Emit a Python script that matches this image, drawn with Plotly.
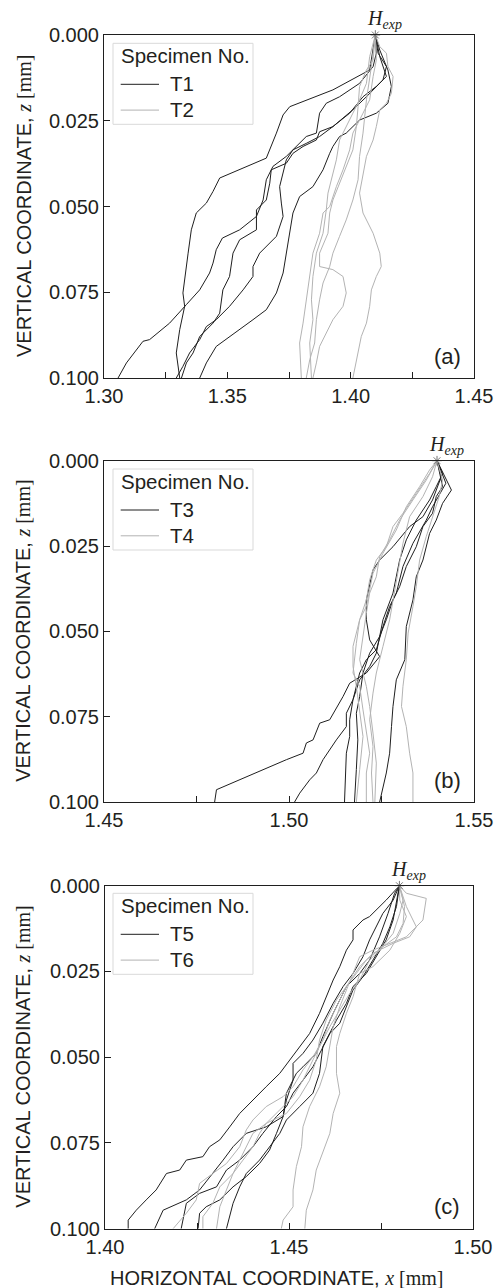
import plotly.graph_objects as go

W, H = 496, 1288

# ---------------- Panel (a) ----------------
T1_x = [
    [1.410, 1.4077, 1.3928, 1.3874, 1.3753, 1.3726, 1.3699, 1.3658, 1.3469, 1.3442, 1.3415, 1.3374, 1.3354, 1.3341, 1.3327, 1.3320, 1.3327, 1.3307, 1.3293, 1.3307],
    [1.410, 1.4111, 1.4145, 1.4131, 1.4064, 1.4009, 1.3928, 1.3874, 1.3861, 1.3807, 1.3766, 1.3739, 1.3678, 1.3672, 1.3658, 1.3618, 1.3618, 1.3550, 1.3523, 1.3509, 1.3482, 1.3469, 1.3442, 1.3415, 1.3388, 1.3361, 1.3334, 1.3314],
    [1.410, 1.4118, 1.4145, 1.4104, 1.4050, 1.3996, 1.3928, 1.3874, 1.3820, 1.3766, 1.3739, 1.3726, 1.3712, 1.3719, 1.3726, 1.3699, 1.3631, 1.3604, 1.3604, 1.3564, 1.3509, 1.3455, 1.3415, 1.3388, 1.3347, 1.3320, 1.3293],
    [1.410, 1.4118, 1.4151, 1.4165, 1.4151, 1.4104, 1.4036, 1.3982, 1.3955, 1.3928, 1.3915, 1.3888, 1.3847, 1.3793, 1.3766, 1.3753, 1.3739, 1.3726, 1.3699, 1.3658, 1.3604, 1.3550, 1.3455, 1.3415, 1.3388],
    [1.410, 1.4104, 1.4091, 1.4036, 1.3955, 1.3901, 1.3874, 1.3861, 1.3820, 1.3766, 1.3739, 1.3685, 1.3658, 1.3645, 1.3618, 1.3550, 1.3480, 1.3455, 1.3442, 1.3428, 1.3388, 1.3334, 1.3266, 1.3185, 1.3158, 1.3091, 1.3057],
]
T1_z = [
    [0, 0.0102, 0.0160, 0.0175, 0.0209, 0.0233, 0.0286, 0.0359, 0.0417, 0.0456, 0.0490, 0.0519, 0.0568, 0.0636, 0.0704, 0.0752, 0.0791, 0.0859, 0.0927, 0.100],
    [0, 0.0053, 0.0092, 0.0131, 0.0180, 0.0218, 0.0267, 0.0282, 0.0306, 0.0325, 0.0345, 0.0374, 0.0393, 0.0432, 0.0481, 0.0510, 0.0568, 0.0597, 0.0636, 0.0704, 0.0743, 0.0811, 0.0840, 0.0859, 0.0879, 0.0927, 0.0956, 0.100],
    [0, 0.0063, 0.0121, 0.0150, 0.0180, 0.0228, 0.0267, 0.0296, 0.0316, 0.0335, 0.0364, 0.0403, 0.0442, 0.0490, 0.0529, 0.0587, 0.0636, 0.0675, 0.0704, 0.0743, 0.0791, 0.0830, 0.0850, 0.0888, 0.0927, 0.0966, 0.100],
    [0, 0.0044, 0.0102, 0.0150, 0.0199, 0.0228, 0.0248, 0.0286, 0.0296, 0.0325, 0.0345, 0.0393, 0.0442, 0.0471, 0.0519, 0.0578, 0.0636, 0.0694, 0.0752, 0.0801, 0.0830, 0.0859, 0.0908, 0.0956, 0.100],
    [0, 0.0053, 0.0092, 0.0141, 0.0180, 0.0199, 0.0228, 0.0286, 0.0296, 0.0335, 0.0354, 0.0383, 0.0422, 0.0481, 0.0529, 0.0568, 0.0592, 0.0626, 0.0665, 0.0694, 0.0743, 0.0786, 0.0840, 0.0888, 0.0893, 0.0956, 0.100],
]
T2_x = [
    [1.410, 1.4118, 1.4145, 1.4151, 1.4172, 1.4165, 1.4145, 1.4118, 1.4104, 1.4091, 1.4064, 1.4050, 1.4036, 1.4050, 1.4091, 1.4118, 1.4124, 1.4104, 1.4084, 1.4077, 1.4064, 1.4043, 1.4030, 1.4009],
    [1.410, 1.4091, 1.4064, 1.4036, 1.4030, 1.4023, 1.4009, 1.3982, 1.3955, 1.3928, 1.3915, 1.3908, 1.3874, 1.3874, 1.3928, 1.3969, 1.3982, 1.3969, 1.3928, 1.3901, 1.3874, 1.3861, 1.3847],
    [1.410, 1.4077, 1.4064, 1.4036, 1.4009, 1.3982, 1.3955, 1.3942, 1.3928, 1.3908, 1.3901, 1.3888, 1.3861, 1.3847, 1.3841, 1.3847, 1.3834, 1.3841],
    [1.410, 1.4104, 1.4091, 1.4077, 1.4050, 1.4009, 1.3996, 1.3969, 1.3942, 1.3915, 1.3888, 1.3874, 1.3847, 1.3834, 1.3820, 1.3807, 1.3793, 1.3800],
    [1.410, 1.4084, 1.4064, 1.4050, 1.4036, 1.4030, 1.4009, 1.3982, 1.3955, 1.3928, 1.3915, 1.3888, 1.3874, 1.3861, 1.3854, 1.3834, 1.3820],
]
T2_z = [
    [0, 0.0034, 0.0053, 0.0092, 0.0121, 0.0170, 0.0199, 0.0218, 0.0267, 0.0306, 0.0354, 0.0413, 0.0461, 0.0519, 0.0578, 0.0636, 0.0675, 0.0704, 0.0743, 0.0791, 0.0840, 0.0879, 0.0927, 0.100],
    [0, 0.0073, 0.0102, 0.0150, 0.0209, 0.0267, 0.0335, 0.0383, 0.0432, 0.0481, 0.0519, 0.0578, 0.0636, 0.0675, 0.0684, 0.0704, 0.0752, 0.0791, 0.0830, 0.0869, 0.0908, 0.0956, 0.100],
    [0, 0.0063, 0.0141, 0.0189, 0.0228, 0.0267, 0.0306, 0.0364, 0.0403, 0.0461, 0.0510, 0.0578, 0.0636, 0.0704, 0.0772, 0.0830, 0.0898, 0.100],
    [0, 0.0073, 0.0121, 0.0189, 0.0228, 0.0286, 0.0335, 0.0393, 0.0442, 0.0500, 0.0519, 0.0578, 0.0636, 0.0704, 0.0772, 0.0840, 0.0898, 0.100],
    [0, 0.0092, 0.0189, 0.0286, 0.0354, 0.0422, 0.0481, 0.0539, 0.0587, 0.0636, 0.0675, 0.0723, 0.0772, 0.0830, 0.0898, 0.0947, 0.100],
]

# ---------------- Panel (b) ----------------
T3_x = [
    [1.540, 1.5415, 1.5388, 1.5362, 1.5326, 1.5281, 1.5245, 1.5227, 1.5209, 1.5209, 1.5218, 1.5245, 1.5209, 1.5164, 1.5146, 1.5110, 1.5083, 1.5065, 1.5047, 1.5038, 1.4993, 1.4804, 1.4799],
    [1.540, 1.5411, 1.5398, 1.5380, 1.5344, 1.5317, 1.5299, 1.5281, 1.5254, 1.5236, 1.5218, 1.5191, 1.5173, 1.5155, 1.5155, 1.5128, 1.5092, 1.5074, 1.5056, 1.5029, 1.5015],
    [1.540, 1.5424, 1.5388, 1.5371, 1.5335, 1.5308, 1.5290, 1.5272, 1.5254, 1.5236, 1.5209, 1.5191, 1.5182, 1.5173, 1.5164, 1.5164, 1.5155, 1.5150],
    [1.540, 1.5439, 1.5415, 1.5398, 1.5380, 1.5362, 1.5344, 1.5335, 1.5317, 1.5313, 1.5290, 1.5281, 1.5277, 1.5272, 1.5263, 1.5245],
    [1.540, 1.5415, 1.5398, 1.5388, 1.5362, 1.5344, 1.5317, 1.5299, 1.5281, 1.5263, 1.5245, 1.5218, 1.5200, 1.5191, 1.5182, 1.5186, 1.5182, 1.5177],
]
T3_z = [
    [0, 0.0037, 0.0115, 0.0164, 0.0193, 0.0252, 0.0291, 0.0320, 0.0408, 0.0466, 0.0525, 0.0574, 0.0622, 0.0652, 0.0691, 0.0759, 0.0769, 0.0818, 0.0827, 0.0857, 0.0876, 0.0964, 0.100],
    [0, 0.0047, 0.0076, 0.0115, 0.0174, 0.0232, 0.0291, 0.0388, 0.0466, 0.0564, 0.0603, 0.0642, 0.0700, 0.0740, 0.0779, 0.0818, 0.0876, 0.0915, 0.0935, 0.0974, 0.100],
    [0, 0.0066, 0.0135, 0.0174, 0.0242, 0.0310, 0.0388, 0.0427, 0.0486, 0.0554, 0.0583, 0.0622, 0.0661, 0.0700, 0.0759, 0.0808, 0.0857, 0.100],
    [0, 0.0086, 0.0125, 0.0174, 0.0213, 0.0291, 0.0340, 0.0408, 0.0486, 0.0583, 0.0642, 0.0720, 0.0779, 0.0857, 0.0915, 0.100],
    [0, 0.0076, 0.0105, 0.0154, 0.0193, 0.0252, 0.0310, 0.0369, 0.0408, 0.0466, 0.0515, 0.0564, 0.0622, 0.0691, 0.0740, 0.0818, 0.0905, 0.100],
]
T4_x = [
    [1.540, 1.5380, 1.5353, 1.5317, 1.5290, 1.5254, 1.5227, 1.5209, 1.5191, 1.5182, 1.5173, 1.5191, 1.5200, 1.5209, 1.5218, 1.5209, 1.5209],
    [1.540, 1.5371, 1.5335, 1.5299, 1.5272, 1.5245, 1.5236, 1.5218, 1.5209, 1.5200, 1.5191, 1.5209, 1.5218, 1.5227, 1.5236, 1.5232],
    [1.540, 1.5388, 1.5362, 1.5326, 1.5308, 1.5299, 1.5290, 1.5281, 1.5272, 1.5254, 1.5236, 1.5227, 1.5218, 1.5227, 1.5223, 1.5227],
    [1.540, 1.5415, 1.5406, 1.5388, 1.5371, 1.5353, 1.5344, 1.5335, 1.5322, 1.5317, 1.5308, 1.5304, 1.5317, 1.5326, 1.5335, 1.5335],
    [1.540, 1.5380, 1.5344, 1.5308, 1.5281, 1.5263, 1.5236, 1.5218, 1.5209, 1.5191, 1.5173, 1.5173, 1.5182, 1.5191, 1.5200, 1.5191, 1.5182],
]
T4_z = [
    [0, 0.0027, 0.0076, 0.0135, 0.0203, 0.0271, 0.0330, 0.0427, 0.0466, 0.0535, 0.0622, 0.0661, 0.0730, 0.0798, 0.0857, 0.0915, 0.100],
    [0, 0.0057, 0.0115, 0.0174, 0.0232, 0.0281, 0.0340, 0.0388, 0.0447, 0.0515, 0.0583, 0.0661, 0.0720, 0.0798, 0.0886, 0.100],
    [0, 0.0047, 0.0105, 0.0164, 0.0242, 0.0300, 0.0349, 0.0408, 0.0466, 0.0544, 0.0622, 0.0681, 0.0759, 0.0837, 0.0915, 0.100],
    [0, 0.0057, 0.0105, 0.0164, 0.0222, 0.0291, 0.0369, 0.0427, 0.0505, 0.0583, 0.0661, 0.0720, 0.0779, 0.0857, 0.0915, 0.100],
    [0, 0.0037, 0.0096, 0.0154, 0.0193, 0.0252, 0.0291, 0.0349, 0.0408, 0.0466, 0.0544, 0.0603, 0.0661, 0.0730, 0.0808, 0.0905, 0.100],
]

# ---------------- Panel (c) ----------------
T5_x = [
    [1.480, 1.4764, 1.4719, 1.4701, 1.4674, 1.4674, 1.4656, 1.4638, 1.4620, 1.4601, 1.4583, 1.4556, 1.4529, 1.4502, 1.4475, 1.4438, 1.4402, 1.4366, 1.4339, 1.4312, 1.4284, 1.4266, 1.4221, 1.4203, 1.4167, 1.4139, 1.4112, 1.4085, 1.4063, 1.4063],
    [1.480, 1.4783, 1.4755, 1.4737, 1.4719, 1.4701, 1.4674, 1.4647, 1.4620, 1.4592, 1.4565, 1.4538, 1.4511, 1.4511, 1.4493, 1.4484, 1.4438, 1.4384, 1.4348, 1.4321, 1.4293, 1.4257, 1.4221, 1.4158, 1.4135],
    [1.480, 1.4792, 1.4774, 1.4755, 1.4728, 1.4701, 1.4674, 1.4656, 1.4638, 1.4611, 1.4583, 1.4565, 1.4538, 1.4511, 1.4493, 1.4466, 1.4429, 1.4402, 1.4366, 1.4330, 1.4303, 1.4257, 1.4221, 1.4207],
    [1.480, 1.4787, 1.4769, 1.4746, 1.4719, 1.4692, 1.4656, 1.4638, 1.4620, 1.4592, 1.4574, 1.4538, 1.4520, 1.4493, 1.4484, 1.4466, 1.4447, 1.4420, 1.4384, 1.4348, 1.4312, 1.4275, 1.4257, 1.4253],
    [1.480, 1.4783, 1.4764, 1.4737, 1.4710, 1.4674, 1.4656, 1.4629, 1.4611, 1.4592, 1.4583, 1.4565, 1.4529, 1.4493, 1.4475, 1.4447, 1.4420, 1.4384, 1.4366, 1.4348, 1.4339, 1.4330],
]
T5_z = [
    [0, 0.0042, 0.0090, 0.0100, 0.0129, 0.0158, 0.0188, 0.0236, 0.0275, 0.0324, 0.0372, 0.0431, 0.0469, 0.0508, 0.0547, 0.0586, 0.0625, 0.0664, 0.0703, 0.0741, 0.0761, 0.0790, 0.0800, 0.0829, 0.0839, 0.0887, 0.0916, 0.0946, 0.0975, 0.100],
    [0, 0.0042, 0.0081, 0.0120, 0.0158, 0.0207, 0.0256, 0.0294, 0.0343, 0.0401, 0.0450, 0.0489, 0.0518, 0.0567, 0.0625, 0.0673, 0.0703, 0.0722, 0.0761, 0.0800, 0.0839, 0.0887, 0.0916, 0.0946, 0.100],
    [0, 0.0061, 0.0120, 0.0168, 0.0217, 0.0265, 0.0304, 0.0353, 0.0401, 0.0431, 0.0489, 0.0528, 0.0567, 0.0605, 0.0644, 0.0673, 0.0722, 0.0761, 0.0800, 0.0829, 0.0878, 0.0897, 0.0926, 0.100],
    [0, 0.0022, 0.0081, 0.0149, 0.0217, 0.0256, 0.0294, 0.0333, 0.0372, 0.0440, 0.0489, 0.0528, 0.0547, 0.0605, 0.0673, 0.0722, 0.0771, 0.0810, 0.0848, 0.0878, 0.0916, 0.0936, 0.0955, 0.100],
    [0, 0.0100, 0.0158, 0.0207, 0.0256, 0.0294, 0.0343, 0.0392, 0.0431, 0.0469, 0.0547, 0.0605, 0.0644, 0.0683, 0.0722, 0.0761, 0.0800, 0.0839, 0.0878, 0.0926, 0.0965, 0.100],
]
T6_x = [
    [1.480, 1.4801, 1.4819, 1.4801, 1.4774, 1.4728, 1.4692, 1.4674, 1.4656, 1.4638, 1.4629, 1.4629, 1.4638, 1.4620, 1.4611, 1.4592, 1.4574, 1.4565, 1.4547, 1.4543],
    [1.480, 1.4819, 1.4873, 1.4864, 1.4819, 1.4728, 1.4692, 1.4674, 1.4656, 1.4638, 1.4620, 1.4611, 1.4601, 1.4583, 1.4556, 1.4538, 1.4534, 1.4520, 1.4511, 1.4511, 1.4484, 1.4479],
    [1.480, 1.4810, 1.4801, 1.4783, 1.4746, 1.4719, 1.4692, 1.4665, 1.4638, 1.4611, 1.4583, 1.4565, 1.4538, 1.4511, 1.4484, 1.4438, 1.4402, 1.4384, 1.4366, 1.4348, 1.4330, 1.4312, 1.4303],
    [1.480, 1.4819, 1.4846, 1.4828, 1.4783, 1.4728, 1.4692, 1.4656, 1.4629, 1.4601, 1.4583, 1.4574, 1.4556, 1.4529, 1.4493, 1.4438, 1.4420, 1.4402, 1.4375, 1.4348, 1.4312, 1.4293, 1.4266, 1.4266],
    [1.480, 1.4814, 1.4810, 1.4792, 1.4755, 1.4710, 1.4683, 1.4656, 1.4629, 1.4611, 1.4592, 1.4565, 1.4538, 1.4511, 1.4484, 1.4438, 1.4402, 1.4384, 1.4366, 1.4330, 1.4293, 1.4257, 1.4248, 1.4221, 1.4185],
]
T6_z = [
    [0, 0.0042, 0.0090, 0.0139, 0.0188, 0.0236, 0.0256, 0.0324, 0.0372, 0.0431, 0.0469, 0.0547, 0.0605, 0.0664, 0.0722, 0.0780, 0.0829, 0.0887, 0.0946, 0.100],
    [0, 0.0022, 0.0037, 0.0100, 0.0149, 0.0188, 0.0207, 0.0256, 0.0304, 0.0353, 0.0411, 0.0469, 0.0528, 0.0586, 0.0644, 0.0703, 0.0761, 0.0819, 0.0887, 0.0936, 0.0975, 0.100],
    [0, 0.0042, 0.0081, 0.0139, 0.0188, 0.0217, 0.0275, 0.0314, 0.0362, 0.0411, 0.0469, 0.0508, 0.0567, 0.0615, 0.0644, 0.0693, 0.0722, 0.0761, 0.0800, 0.0839, 0.0887, 0.0936, 0.100],
    [0, 0.0061, 0.0120, 0.0149, 0.0168, 0.0197, 0.0236, 0.0294, 0.0333, 0.0392, 0.0450, 0.0508, 0.0567, 0.0615, 0.0664, 0.0693, 0.0722, 0.0761, 0.0800, 0.0839, 0.0878, 0.0926, 0.0965, 0.100],
    [0, 0.0061, 0.0110, 0.0149, 0.0178, 0.0217, 0.0256, 0.0294, 0.0353, 0.0392, 0.0450, 0.0499, 0.0537, 0.0586, 0.0615, 0.0644, 0.0683, 0.0712, 0.0761, 0.0810, 0.0839, 0.0868, 0.0916, 0.0955, 0.100],
]

HEXP_X = [1.410, 1.540, 1.480]
HEXP_Z = [0.0, 0.0, 0.0]
X_RANGES = [[1.30, 1.45], [1.45, 1.55], [1.40, 1.50]]
Z_RANGE = [0.100, 0.000]
PANEL_LABELS = ["(a)", "(b)", "(c)"]
SPECIMENS = [["T1", "T2"], ["T3", "T4"], ["T5", "T6"]]
LEGEND_TITLE = "Specimen No."

BLACK = "#1f1f1f"
GRAY = "#b3b3b3"
TXT = "#231f20"
FONT = "Liberation Sans, Arial, Helvetica, sans-serif"
SERIF = "Liberation Serif, Times New Roman, serif"

# plot-area boxes in pixels (left, top, right, bottom)
BOXES = [(104, 35, 474, 378), (104, 460.7, 474, 802), (105, 885.7, 473, 1228.7)]
LEGEND_TOP = [43.3, 469, 893.3]

def pxx(p):
    return p / W

def pxy(p):
    return 1 - p / H

fig = go.Figure()
data = [(T1_x, T1_z, T2_x, T2_z), (T3_x, T3_z, T4_x, T4_z), (T5_x, T5_z, T6_x, T6_z)]

for i, (bx, bz, gx, gz) in enumerate(data):
    n = "" if i == 0 else str(i + 1)
    xa, ya = "x" + n, "y" + n
    for xs, zs in zip(bx, bz):
        fig.add_trace(go.Scatter(x=xs, y=zs, mode="lines", line=dict(color=BLACK, width=1),
                                 name=SPECIMENS[i][0], showlegend=False, xaxis=xa, yaxis=ya))
    for xs, zs in zip(gx, gz):
        fig.add_trace(go.Scatter(x=xs, y=zs, mode="lines", line=dict(color=GRAY, width=1),
                                 name=SPECIMENS[i][1], showlegend=False, xaxis=xa, yaxis=ya))
    fig.add_trace(go.Scatter(x=[HEXP_X[i]], y=[HEXP_Z[i]], mode="markers",
                             marker=dict(symbol="asterisk-open", size=8, color="#777777",
                                         line=dict(color="#777777", width=1)),
                             showlegend=False, xaxis=xa, yaxis=ya, cliponaxis=False))

    l, t, r, b = BOXES[i]
    fig.layout["xaxis" + n] = dict(
        domain=[pxx(l), pxx(r)], range=X_RANGES[i], anchor=ya, automargin=False,
        dtick=0.05, tick0=X_RANGES[i][0], tickformat=".2f",
        ticks="inside", ticklen=6, tickwidth=1, tickcolor=BLACK,
        minor=dict(dtick=0.025, tick0=X_RANGES[i][0], ticks="inside", ticklen=6, tickwidth=1, tickcolor=BLACK),
        showline=True, linecolor=BLACK, linewidth=1, mirror=True,
        showgrid=False, zeroline=False,
        tickfont=dict(size=20, color=TXT, family=FONT),
    )
    fig.layout["yaxis" + n] = dict(
        domain=[pxy(b), pxy(t)], range=Z_RANGE, anchor=xa, automargin=False,
        dtick=0.025, tick0=0, tickformat=".3f",
        ticks="inside", ticklen=6, tickwidth=1, tickcolor=BLACK,
        showline=True, linecolor=BLACK, linewidth=1, mirror=True,
        showgrid=False, zeroline=False,
        tickfont=dict(size=20, color=TXT, family=FONT),
    )

    # ---- legend box (drawn in paper space) ----
    lt = LEGEND_TOP[i]
    fig.add_shape(type="rect", xref="paper", yref="paper",
                  x0=pxx(113), x1=pxx(253), y0=pxy(lt + 81), y1=pxy(lt),
                  line=dict(color="#d9d9d9", width=1), fillcolor="white", layer="above")
    fig.add_annotation(x=pxx(119), y=pxy(lt + 12.5), xref="paper", yref="paper",
                       text=LEGEND_TITLE, showarrow=False, xanchor="left", yanchor="middle",
                       font=dict(family=FONT, size=20.5, color=TXT))
    for j, (nm, col) in enumerate(zip(SPECIMENS[i], [BLACK, GRAY])):
        yy = lt + 41 + j * 25.8
        fig.add_shape(type="line", xref="paper", yref="paper",
                      x0=pxx(120.7), x1=pxx(159), y0=pxy(yy), y1=pxy(yy),
                      line=dict(color=col, width=1), layer="above")
        fig.add_annotation(x=pxx(167.5), y=pxy(yy - 0.5), xref="paper", yref="paper",
                           text=nm, showarrow=False, xanchor="left", yanchor="middle",
                           font=dict(family=FONT, size=20.5, color=TXT))

    # H_exp label
    fig.add_annotation(x=HEXP_X[i], y=HEXP_Z[i], xref=xa, yref=ya,
                       text="<i>H</i><sub><i>exp</i></sub>", showarrow=False,
                       xanchor="center", yanchor="bottom", xshift=9, yshift=1,
                       font=dict(family=SERIF, size=20, color=TXT))
    # panel label
    fig.add_annotation(x=pxx(r - 11), y=pxy(b - 22), xref="paper", yref="paper",
                       text=PANEL_LABELS[i], showarrow=False, xanchor="right", yanchor="middle",
                       font=dict(family=FONT, size=22, color=TXT))
    # y title
    fig.add_annotation(x=pxx(23.5), y=pxy((t + b) / 2), xref="paper", yref="paper",
                       text='VERTICAL COORDINATE, <span style="font-family:Liberation Serif"><i>z</i> [mm]</span>',
                       textangle=-90, showarrow=False, xanchor="center", yanchor="middle",
                       font=dict(family=FONT, size=20, color=TXT))

fig.add_annotation(x=pxx(277), y=pxy(1278), xref="paper", yref="paper",
                   text='HORIZONTAL COORDINATE, <span style="font-family:Liberation Serif"><i>x</i> [mm]</span>',
                   showarrow=False, xanchor="center", yanchor="middle",
                   font=dict(family=FONT, size=20, color=TXT))

fig.update_layout(width=W, height=H, margin=dict(l=0, r=0, t=0, b=0),
                  paper_bgcolor="white", plot_bgcolor="white", showlegend=False,
                  font=dict(family=FONT, color=TXT))

fig.write_html("out.html", config={"displayModeBar": False},
               post_script="document.body.style.margin='0';document.body.style.overflow='hidden';")
